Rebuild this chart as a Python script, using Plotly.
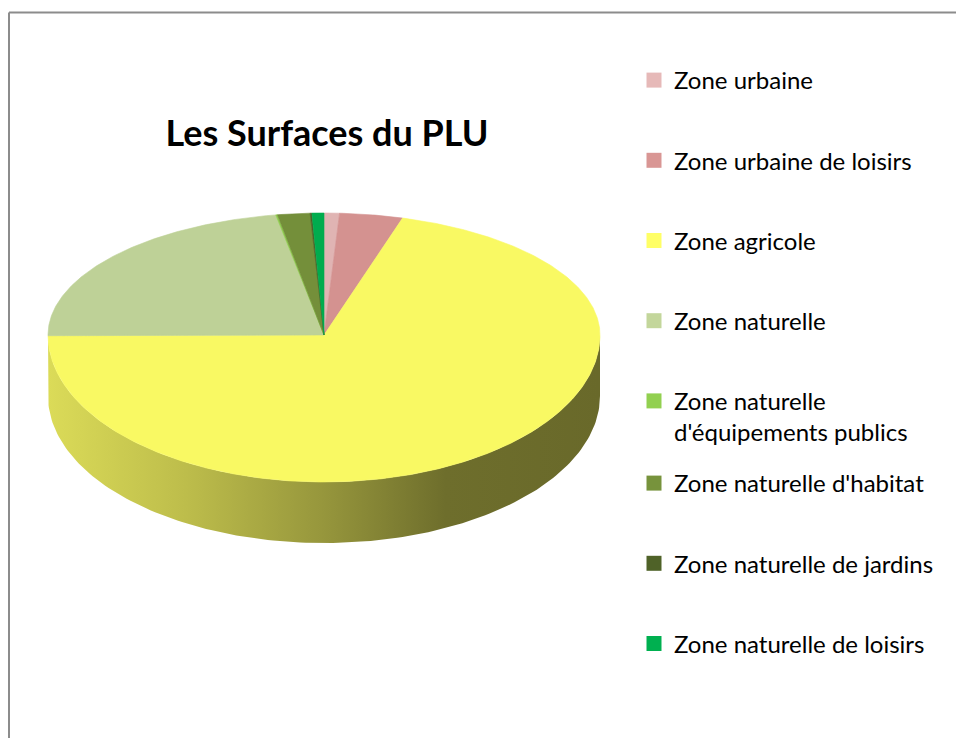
import numpy as np
import plotly.graph_objects as go

# Land-use zones of the PLU and their share of the total surface (%)
zones = [
    "Zone urbaine",
    "Zone urbaine de loisirs",
    "Zone agricole",
    "Zone naturelle",
    "Zone naturelle<br>d'équipements publics",
    "Zone naturelle d'habitat",
    "Zone naturelle de jardins",
    "Zone naturelle de loisirs",
]
surfaces = [0.9, 3.7, 70.4, 22.3, 0.1, 1.9, 0.1, 0.7]
colors = ["#e6b9b8", "#d99694", "#ffff66", "#c3d69b",
          "#92d050", "#77933c", "#4f6228", "#00b050"]

W, H = 956, 738

# Tilted disc drawn in page-pixel units (y grows downward)
CX, CY = 324, 335
RX, RY_BACK, RY_FRONT = 276, 122, 147
DEPTH = 61


def rim(theta_deg, drop=0.0):
    """Point on the disc rim; angle measured clockwise from 12 o'clock."""
    t = np.radians(np.asarray(theta_deg, dtype=float))
    c = np.cos(t)
    ry = np.where(c > 0, RY_BACK, RY_FRONT)
    return CX + RX * np.sin(t), CY - ry * c + drop


def hex_rgb(h):
    h = h.lstrip("#")
    return tuple(int(h[i:i + 2], 16) for i in (0, 2, 4))


def shaded(h, k):
    r, g, b = hex_rgb(h)
    return f"rgb({round(r * k)},{round(g * k)},{round(b * k)})"


total = float(sum(surfaces))
bounds = np.concatenate([[0.0], np.cumsum(surfaces) / total * 360.0])

fig = go.Figure()

# Side wall: only the front half of the rim (90..270 degrees) is visible
wall_stops = [(0.0, 0.86), (0.25, 0.74), (0.5, 0.59), (0.72, 0.43), (1.0, 0.41)]
for name, col, a0, a1 in zip(zones, colors, bounds[:-1], bounds[1:]):
    lo, hi = max(a0, 90.0), min(a1, 270.0)
    if hi <= lo:
        continue
    th = np.linspace(lo, hi, 160)
    xt, yt = rim(th)
    xb, yb = rim(th[::-1], DEPTH)
    fig.add_trace(go.Scatter(
        x=np.concatenate([xt, xb]), y=np.concatenate([yt, yb]),
        mode="lines", fill="toself", line=dict(width=0),
        fillgradient=dict(type="horizontal",
                          colorscale=[[p, shaded(col, k)] for p, k in wall_stops]),
        hoverinfo="skip", showlegend=False, legendgroup=name,
    ))

# Top face wedges (slightly dimmed by the lighting)
for name, col, val, a0, a1 in zip(zones, colors, surfaces, bounds[:-1], bounds[1:]):
    n = max(4, int((a1 - a0) * 2))
    th = np.linspace(a0, a1, n)
    xa, ya = rim(th)
    face = shaded(col, 0.975)
    fig.add_trace(go.Scatter(
        x=np.concatenate([[CX], xa, [CX]]), y=np.concatenate([[CY], ya, [CY]]),
        mode="lines", fill="toself", fillcolor=face,
        line=dict(width=0.6, color=face),
        name=name.replace("<br>", " "), text=f"{val} %",
        hoverinfo="name+text", hoveron="fills",
        showlegend=False, legendgroup=name,
    ))

# Legend entries (square swatches), split in two blocks for even spacing
for i, (name, col) in enumerate(zip(zones, colors)):
    fig.add_trace(go.Scatter(
        x=[None], y=[None], mode="markers",
        marker=dict(symbol="square", size=15, color=col, line=dict(width=0)),
        name=name, legendgroup=name,
        legend="legend" if i < 5 else "legend2",
    ))

legend_style = dict(
    xanchor="left", yanchor="top", x=634 / W,
    tracegroupgap=46, valign="top", bgcolor="rgba(0,0,0,0)",
    font=dict(family="Lato", size=24, color="#000000"),
    itemclick="toggle",
)

fig.update_layout(
    width=W, height=H,
    margin=dict(l=0, r=0, t=0, b=0),
    paper_bgcolor="white", plot_bgcolor="white",
    xaxis=dict(range=[0, W], visible=False, fixedrange=True),
    yaxis=dict(range=[H, 0], visible=False, fixedrange=True),
    title=dict(text="<b>Les Surfaces du PLU</b>", xref="container", yref="container",
               x=327 / W, y=1 - 133 / H, xanchor="center", yanchor="middle",
               font=dict(family="Lato", size=36, color="#000000")),
    legend=dict(y=1 - 58 / H, **legend_style),
    legend2=dict(y=1 - 461 / H, **legend_style),
    showlegend=True,
    shapes=[
        dict(type="line", xref="paper", yref="paper", x0=9 / W, x1=1.0,
             y0=1 - 12.5 / H, y1=1 - 12.5 / H, line=dict(color="#8c8c8c", width=2)),
        dict(type="line", xref="paper", yref="paper", x0=9 / W, x1=9 / W,
             y0=0.0, y1=1 - 12.5 / H, line=dict(color="#8c8c8c", width=2)),
    ],
)

fig.write_html("out.html")
